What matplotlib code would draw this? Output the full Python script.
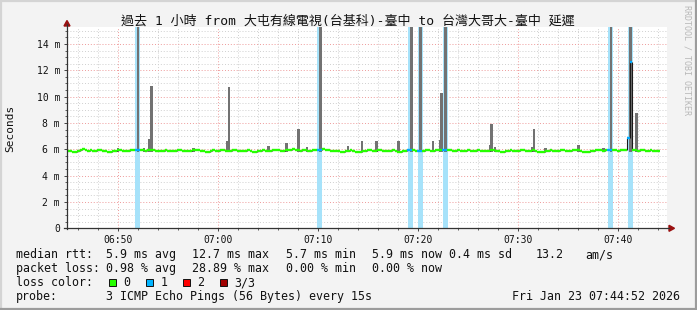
import matplotlib
matplotlib.use('Agg')
import matplotlib.pyplot as plt
import numpy as np
from matplotlib.patches import Rectangle, Polygon
from matplotlib.lines import Line2D
from matplotlib.collections import LineCollection
from matplotlib.ticker import MultipleLocator

MONO = ['DejaVu Sans Mono', 'Noto Sans CJK TC']
plt.rcParams['font.family'] = MONO

# ---------------- data ----------------
title = "過去 1 小時 from 大屯有線電視(台基科)-臺中 to 台灣大哥大-臺中 延遲"
t_start = 44.875          # minutes after 06:00 of first median sample
step = 0.25               # 15 s per sample
median = [
    5.90, 5.88, 5.78, 5.76, 5.85, 5.92, 6.00, 5.95, 5.90, 5.92, 5.88, 5.90, 5.95, 5.93, 5.88, 5.85, 5.82, 5.80, 5.86, 5.90,
    5.92, 5.95, 5.90, 5.88, 5.90, 5.93, 5.96, 5.94, 5.98, 5.96, 5.92, 5.90, 5.95, 5.98, 5.92, 5.88, 5.90, 5.86, 5.90, 5.93,
    5.90, 5.87, 5.85, 5.88, 5.92, 5.95, 5.90, 5.86, 5.84, 5.88, 5.93, 5.96, 5.92, 5.88, 5.85, 5.80, 5.83, 5.88, 5.92, 5.90,
    5.88, 5.92, 5.95, 5.90, 5.86, 5.90, 5.94, 5.92, 5.88, 5.84, 5.86, 5.90, 5.93, 5.88, 5.82, 5.80, 5.85, 5.90, 5.92, 5.88,
    5.86, 5.90, 5.94, 5.96, 5.92, 5.90, 5.88, 5.92, 5.95, 5.98, 6.00, 5.95, 5.92, 5.90, 5.93, 5.95, 5.90, 5.88, 5.92, 5.96,
    5.95, 5.94, 6.00, 5.98, 5.92, 5.88, 5.85, 5.90, 5.86, 5.82, 5.80, 5.84, 5.88, 5.92, 5.86, 5.82, 5.78, 5.76, 5.84, 5.90,
    5.92, 5.94, 5.90, 5.86, 5.92, 5.95, 5.90, 5.88, 5.84, 5.88, 5.92, 5.90, 5.82, 5.80, 5.86, 5.90, 5.94, 5.96, 5.92, 5.90,
    5.88, 5.85, 5.90, 5.94, 5.92, 5.88, 5.90, 5.93, 5.96, 5.94, 5.92, 5.95, 5.98, 5.92, 5.88, 5.90, 5.92, 5.88, 5.86, 5.90,
    5.92, 5.90, 5.86, 5.88, 5.92, 5.90, 5.86, 5.84, 5.88, 5.92, 5.95, 5.90, 5.85, 5.80, 5.78, 5.84, 5.90, 5.92, 5.88, 5.85,
    5.88, 5.92, 5.95, 5.90, 5.86, 5.88, 5.92, 5.90, 5.82, 5.78, 5.80, 5.86, 5.90, 5.92, 5.88, 5.86, 5.90, 5.94, 5.92, 5.88,
    5.86, 5.90, 5.94, 5.98, 5.92, 5.88, 5.82, 5.76, 5.80, 5.86, 5.90, 5.94, 5.95, 5.92, 5.90, 5.93, 5.95, 5.96, 5.94, 5.92,
    5.90, 5.92, 5.94, 5.92, 6.83, 12.65, 5.95, 5.92, 5.90, 5.94, 5.92, 5.88, 5.90, 5.93, 5.90, 5.88, 5.86,
]
loss_center = [51.88, 70.12, 79.18, 80.19, 82.69, 99.19, 101.19]
loss_width = 0.5
smoke_time = [51.97, 70.22, 79.30, 80.24, 82.75, 99.27, 101.24,
              53.28, 61.07, 68.05, 82.32, 87.32, 91.57, 101.83,
              49.97, 52.57, 53.12, 57.54, 60.87, 65.02, 66.82, 68.87, 72.97,
              74.37, 75.82, 78.04, 81.47, 82.17, 87.17, 87.67, 91.37, 92.72,
              96.02, 98.52]
smoke_top = [24.0, 22.0, 26.0, 21.0, 23.0, 25.0, 27.0,
             10.80, 10.73, 7.56, 10.30, 7.94, 7.56, 8.75,
             6.12, 6.12, 6.80, 6.10, 6.63, 6.25, 6.48, 6.17, 6.25,
             6.60, 6.60, 6.60, 6.60, 6.68, 6.30, 6.15, 6.15, 6.10,
             6.35, 6.10]
smoke_base = 5.78
x_ticks = [50, 60, 70, 80, 90, 100]
x_labels = ['06:50', '07:00', '07:10', '07:20', '07:30', '07:40']
y_ticks = [0, 2, 4, 6, 8, 10, 12, 14]
y_labels = ['0', '2 m', '4 m', '6 m', '8 m', '10 m', '12 m', '14 m']
x_range = (44.867, 104.867)
y_range = (0, 15.31)

legend_rows = [
    (254.5, [(16, 'median rtt:'), (106.5, '5.9 ms avg'), (192.5, '12.7 ms max'),
             (286.5, '5.7 ms min'), (372, '5.9 ms now'), (449, '0.4 ms sd'),
             (536, '13.2'), (585, 'am/s')]),
    (268.5, [(16, 'packet loss:'), (106.5, '0.98 % avg'), (192.5, '28.89 % max'),
             (286.5, '0.00 % min'), (372, '0.00 % now')]),
    (282.5, [(16, 'loss color:')]),
    (296.5, [(16, 'probe:'), (106.5, '3 ICMP Echo Pings (56 Bytes) every 15s')]),
]
loss_labels = ['0', '1', '2', '3/3']
loss_colors = ['#26ff00', '#00b4ff', '#ff0000', '#a00000']
loss_box_x = [108.5, 145.5, 182.5, 219.5]
date_text = 'Fri Jan 23 07:44:52 2026'

# ---------------- figure ----------------
W, H = 697, 310
fig = plt.figure(figsize=(W / 100, H / 100), dpi=100, facecolor='#f3f3f3')


def fx(x):
    return x / W


def fy(y):
    return 1 - y / H


ax_left, ax_right, ax_top, ax_bot = 67, 667, 26.7, 228.3
ax = fig.add_axes([fx(ax_left), fy(ax_bot), (ax_right - ax_left) / W, (ax_bot - ax_top) / H])
ax.set_facecolor('white')
ax.set_xlim(*x_range)
ax.set_ylim(*y_range)
for s in ax.spines.values():
    s.set_visible(False)

ax.set_xticks(x_ticks)
ax.set_xticklabels(x_labels)
ax.set_yticks(y_ticks)
ax.set_yticklabels(y_labels)
ax.xaxis.set_minor_locator(MultipleLocator(2))
ax.yaxis.set_minor_locator(MultipleLocator(0.5))
ax.grid(which='minor', color='#cfcfcf', linestyle=(0, (1, 2)), linewidth=0.7)
ax.grid(which='major', color='#ee9a9a', linestyle=(0, (1, 2)), linewidth=0.7)
ax.set_axisbelow(True)
ax.tick_params(which='major', length=2, width=0.7, color='#444444', labelsize=7,
               labelcolor='#111111', pad=3)
ax.tick_params(which='minor', length=1.2, width=0.6, color='#444444')

# loss bars
ax.bar(loss_center, [y_range[1]] * len(loss_center), width=loss_width,
       color='#a6e2fa', zorder=1.5, linewidth=0)
# smoke
ax.bar(smoke_time, np.array(smoke_top) - smoke_base, bottom=smoke_base, width=0.28,
       color='#727272', zorder=2, linewidth=0)

# median line (steps, coloured by loss)
med = np.array(median)
n = len(med)
edges = t_start + step * np.arange(n + 1)
centers = edges[:-1] + step / 2
in_loss = np.zeros(n, bool)
for c in loss_center:
    in_loss |= np.abs(centers - c) < loss_width / 2
horiz = [[(edges[i], med[i]), (edges[i + 1], med[i])] for i in range(n)]
hcol = ['#00aaff' if l else '#26ff00' for l in in_loss]
vert = [[(edges[i + 1], med[i]), (edges[i + 1], med[i + 1])] for i in range(n - 1)]
ax.add_collection(LineCollection(vert, colors='#1a1a1a', linewidths=0.8, zorder=3))
ax.add_collection(LineCollection(horiz, colors=hcol, linewidths=1.7, zorder=4,
                                 capstyle='butt'))

# axis lines with arrows
axis_col = '#333333'
fig.add_artist(Line2D([fx(ax_left), fx(ax_left)], [fy(ax_bot + 1), fy(24)],
                      color=axis_col, lw=0.9, transform=fig.transFigure))
fig.add_artist(Line2D([fx(64), fx(669)], [fy(ax_bot), fy(ax_bot)],
                      color=axis_col, lw=0.9, transform=fig.transFigure))
fig.add_artist(Polygon([(fx(ax_left - 3), fy(26)), (fx(ax_left + 3), fy(26)), (fx(ax_left), fy(20.5))],
                       closed=True, color='#9a1010', transform=fig.transFigure))
fig.add_artist(Polygon([(fx(669), fy(ax_bot - 3)), (fx(669), fy(ax_bot + 3)), (fx(674.5), fy(ax_bot))],
                       closed=True, color='#9a1010', transform=fig.transFigure))

# title, unit, watermark
fig.text(fx(347.5), fy(21), title, ha='center', va='center', fontsize=9.35,
         family=MONO, color='#111111')
fig.text(fx(10), fy(128), 'Seconds', rotation=90, ha='center', va='center',
         fontsize=8, family=MONO, color='#111111')
fig.text(fx(687), fy(5), 'RRDTOOL / TOBI OETIKER', rotation=-90, ha='center', va='top',
         fontsize=6, family=MONO, color='#b8b8b8')

# legend
LEG = 8.4
for y, items in legend_rows:
    for x, s in items:
        fig.text(fx(x), fy(y), s, ha='left', va='center', fontsize=LEG,
                 family=MONO, color='#111111')
for bx, lab, col in zip(loss_box_x, loss_labels, loss_colors):
    fig.add_artist(Rectangle((fx(bx), fy(286)), 7 / W, 7 / H, facecolor=col,
                             edgecolor='#111111', linewidth=0.7, transform=fig.transFigure))
    fig.text(fx(bx + 15), fy(282.5), lab, ha='left', va='center', fontsize=LEG,
             family=MONO, color='#111111')
fig.text(fx(680), fy(296.5), date_text, ha='right', va='center', fontsize=LEG,
         family=MONO, color='#111111')

# frame
fig.add_artist(Line2D([0, 1], [fy(0.8), fy(0.8)], color='#d4d4d4', lw=1.6, transform=fig.transFigure))
fig.add_artist(Line2D([fx(0.8), fx(0.8)], [0, 1], color='#d4d4d4', lw=1.6, transform=fig.transFigure))
fig.add_artist(Line2D([0, 1], [fy(H - 1), fy(H - 1)], color='#9c9c9c', lw=1.6, transform=fig.transFigure))
fig.add_artist(Line2D([fx(W - 1), fx(W - 1)], [0, 1], color='#9c9c9c', lw=1.6, transform=fig.transFigure))

fig.savefig('out.png', dpi=100, facecolor=fig.get_facecolor())
